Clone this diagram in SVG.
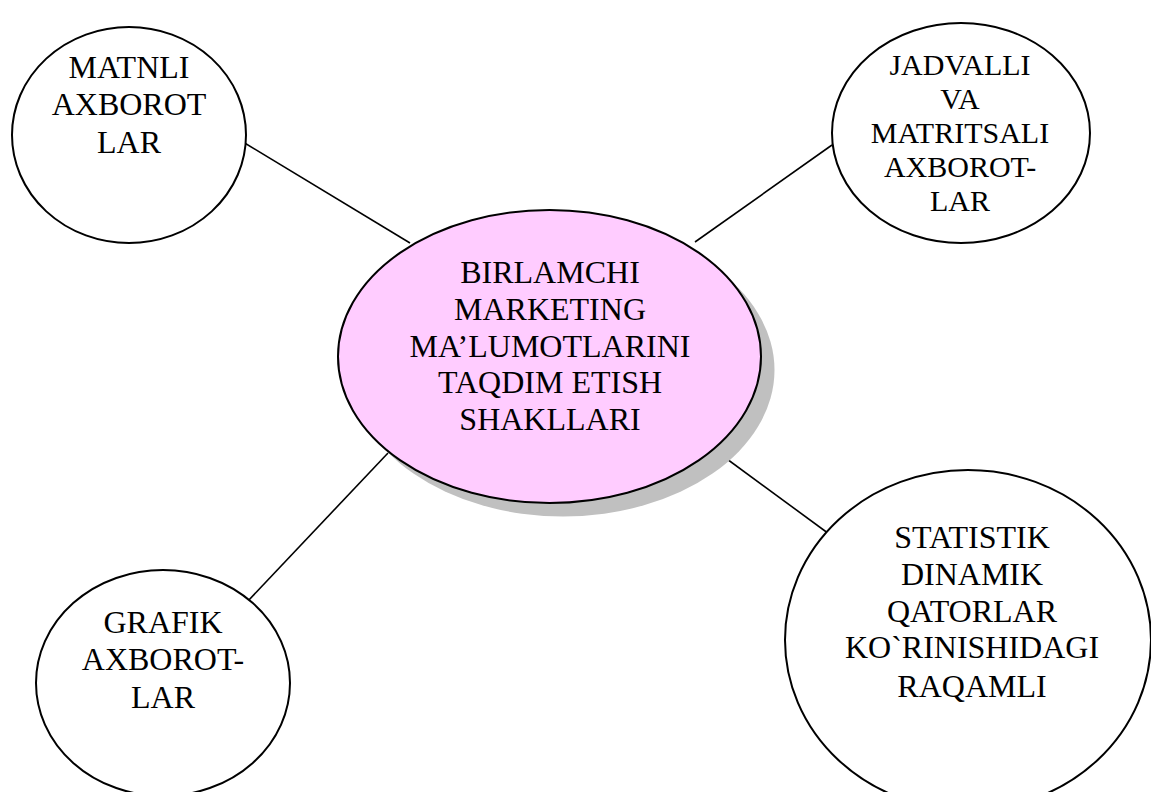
<svg xmlns="http://www.w3.org/2000/svg" width="1151" height="792" viewBox="0 0 1151 792">
<style>
.node{fill:#ffffff;stroke:#000000;stroke-width:2}
.center{fill:#ffccff;stroke:#000000;stroke-width:2}
.shadow{fill:#c0c0c0;stroke:none}
.conn line{stroke:#000000;stroke-width:1.6}
.t{font-family:'Liberation Serif','Times New Roman',serif;font-size:32px;fill:#000000;text-anchor:middle}
.sm{font-size:30px}
</style>
<rect width="1151" height="792" fill="#ffffff"/>
<g id="connectors" class="conn">
<line x1="243" y1="142" x2="410" y2="243"/>
<line x1="695" y1="242" x2="832" y2="145"/>
<line x1="388" y1="453" x2="247" y2="602"/>
<line x1="712" y1="448" x2="840" y2="542"/>
</g>
<g id="node-matnli">
<ellipse class="node" cx="129" cy="135" rx="117" ry="108"/>
<g class="t">
<text x="129" y="78">MATNLI</text>
<text x="129" y="115">AXBOROT</text>
<text x="129" y="153">LAR</text>
</g>
</g>
<g id="node-jadvalli">
<ellipse class="node" cx="961" cy="133" rx="129" ry="110"/>
<g class="t sm">
<text x="960" y="75">JADVALLI</text>
<text x="960" y="109">VA</text>
<text x="960" y="143">MATRITSALI</text>
<text x="960" y="177">AXBOROT-</text>
<text x="960" y="211">LAR</text>
</g>
</g>
<g id="node-center">
<ellipse class="shadow" cx="563" cy="370" rx="211.5" ry="146.5"/>
<ellipse class="center" cx="549.5" cy="356.5" rx="211.5" ry="146.5"/>
<g class="t">
<text x="550" y="283">BIRLAMCHI</text>
<text x="550" y="320">MARKETING</text>
<text x="550" y="357">MA’LUMOTLARINI</text>
<text x="550" y="393">TAQDIM ETISH</text>
<text x="550" y="430">SHAKLLARI</text>
</g>
</g>
<g id="node-grafik">
<ellipse class="node" cx="163" cy="683" rx="127" ry="113"/>
<g class="t">
<text x="163" y="633">GRAFIK</text>
<text x="163" y="670">AXBOROT-</text>
<text x="163" y="708">LAR</text>
</g>
</g>
<g id="node-statistik">
<ellipse class="node" cx="968" cy="640" rx="183" ry="170"/>
<g class="t">
<text x="972" y="548">STATISTIK</text>
<text x="972" y="585">DINAMIK</text>
<text x="972" y="622">QATORLAR</text>
<text x="972" y="658">KO`RINISHIDAGI</text>
<text x="972" y="697">RAQAMLI</text>
</g>
</g>
</svg>
